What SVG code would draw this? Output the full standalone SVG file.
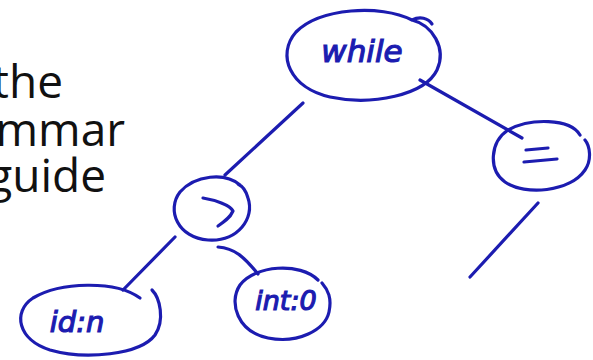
<svg xmlns="http://www.w3.org/2000/svg" width="593" height="360" viewBox="0 0 593 360">
<style>
.slide{font-family:"Open Sans","Noto Sans",sans-serif;font-size:46px;fill:#111;text-anchor:end}
.ink{fill:none;stroke:#1c1cb0;stroke-width:3.2;stroke-linecap:round;stroke-linejoin:round}
.hand{font-family:"DejaVu Sans","Liberation Sans",sans-serif;font-style:italic;fill:#1c1cb0;stroke:#1c1cb0;stroke-width:1.2;text-anchor:middle}
</style>
<rect width="593" height="360" fill="#fff"/>
<g id="slide-text">
<text class="slide" x="63" y="98">the</text>
<text class="slide" x="125" y="146">mmar</text>
<text class="slide" x="106" y="192">guide</text>
</g>
<g id="connectors">
<path class="ink" d="M303,103 L225,175"/>
<path class="ink" d="M420,80 L522,138"/>
<path class="ink" d="M175,237 L123,290"/>
<path class="ink" d="M218,247 C235,248 245,258 258,274"/>
<path class="ink" d="M538,203 L470,277"/>
</g>
<g id="node-while">
<path class="ink" d="M412,20 C380,4 320,8 296,32 C276,55 290,88 330,97 C372,106 425,95 437,70 C447,48 432,25 412,20 C420,16 428,18 432,24"/>
<text class="hand" x="362" y="62" font-size="31">while</text>
</g>
<g id="node-gt">
<path class="ink" d="M240,185 C225,172 195,175 180,192 C166,210 178,238 208,240 C238,242 255,218 248,198 C246,190 242,186 238,184"/>
<path class="ink" d="M203,198 C215,200 230,205 233,211 C230,218 224,222 218,226"/>
</g>
<g id="node-eq">
<path class="ink" d="M580,135 C570,118 530,118 508,130 C490,142 488,170 505,182 C525,196 570,192 585,170 C592,160 590,146 585,140"/>
<path class="ink" d="M526,150 L548,148"/>
<path class="ink" d="M524,162 L557,159"/>
</g>
<g id="node-idn">
<path class="ink" d="M140,298 C115,280 60,282 33,298 C12,312 18,340 50,350 C85,360 140,355 155,335 C165,320 160,298 152,290"/>
<text class="hand" x="77" y="332" font-size="29">id:n</text>
</g>
<g id="node-int0">
<path class="ink" d="M318,280 C300,262 255,265 240,285 C228,303 238,332 268,338 C298,344 325,330 329,312 C332,298 328,290 322,283"/>
<text class="hand" x="286" y="310" font-size="27">int:0</text>
</g>
</svg>
